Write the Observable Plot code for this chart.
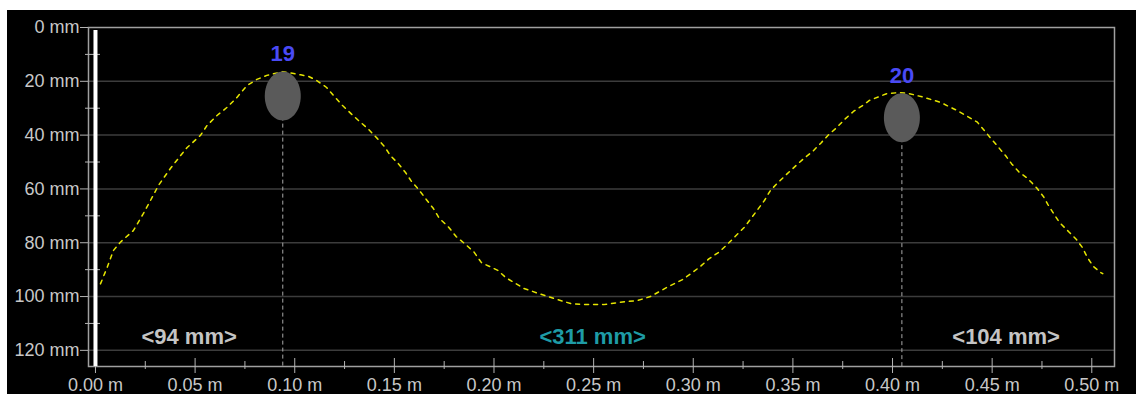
<!DOCTYPE html>
<html><head><meta charset="utf-8">
<script src="https://cdn.jsdelivr.net/npm/d3@7"></script>
<script src="https://cdn.jsdelivr.net/npm/@observablehq/plot@0.6"></script>
<style>
html,body{margin:0;padding:0;background:#fff;width:1136px;height:394px;overflow:hidden}
#chart{position:absolute;left:7px;top:10px;width:1129px;height:384px;background:#000}
#chart svg{display:block}
</style></head><body><div id="chart"></div>
<script>
// Surface profile (x in metres, depth in mm)
const profileX = [0.0025,0.0059,0.009,0.0125,0.019,0.024,0.0276,0.0316,0.0376,0.0427,0.046,0.0527,0.056,0.061,0.066,0.071,0.076,0.081,0.086,0.094,0.103,0.107,0.111,0.116,0.1195,0.124,0.1285,0.1325,0.137,0.1415,0.145,0.148,0.152,0.1556,0.1586,0.1626,0.166,0.1696,0.1726,0.177,0.181,0.1857,0.19,0.1937,0.202,0.206,0.211,0.215,0.223,0.23,0.2385,0.245,0.255,0.2635,0.272,0.2785,0.287,0.2946,0.299,0.3036,0.308,0.3127,0.317,0.321,0.3257,0.329,0.332,0.3357,0.3387,0.342,0.3468,0.351,0.355,0.36,0.364,0.368,0.372,0.3759,0.3804,0.385,0.3884,0.397,0.403,0.4075,0.4155,0.424,0.4325,0.4426,0.449,0.4567,0.4597,0.4637,0.4677,0.4722,0.4757,0.478,0.4808,0.4838,0.4883,0.4923,0.4953,0.4978,0.5008,0.5043,0.5055];
const profileY = [95.3,89.1,82.9,79.8,75.5,69.2,64.3,58.7,52.4,47.6,44.6,40.1,36.4,32.7,29.7,26.0,21.6,19.3,17.8,16.4,17.6,18.2,19.7,22.3,25.3,29.0,32.2,34.9,37.8,41.3,44.2,47.6,50.6,53.9,57.2,60.6,63.9,67.3,71.0,74.0,77.7,80.6,83.5,87.4,90.3,93.0,95.2,97.0,99.0,100.7,102.6,103.0,103.0,102.1,101.5,100.0,96.5,93.7,91.4,88.8,85.9,83.6,80.7,77.7,74.2,71.0,68.0,64.3,60.6,58.0,54.6,51.7,49.0,46.0,43.0,39.8,37.2,34.2,31.2,29.0,27.1,24.6,24.2,24.4,25.9,27.8,30.9,35.2,40.9,47.6,50.6,53.9,56.0,59.5,62.8,65.8,69.1,72.5,75.8,78.8,81.8,85.5,88.8,91.0,91.5];

// Peaks
const peakIds = ["19", "20"];
const peakX = [0.094, 0.4047];
const peakY = [25.5, 33.5];

// Span annotations
const spanEdges = [0, 0.094, 0.405, 0.509];
const spanLabels = ["<94 mm>", "<311 mm>", "<104 mm>"];
const spanColors = ["#c4c4c4", "#1e9ba6", "#c4c4c4"];

// Ticks
const yTicks = [0, 20, 40, 60, 80, 100, 120];
const yMinor = [10, 30, 50, 70, 90, 110];
const xTicks = [0, 0.05, 0.10, 0.15, 0.20, 0.25, 0.30, 0.35, 0.40, 0.45, 0.50];
const xMinor = [0.025, 0.075, 0.125, 0.175, 0.225, 0.275, 0.325, 0.375, 0.425, 0.475];
const startMark = [0];

const profile = profileX.map((x, i) => ({x, y: profileY[i]}));
const peaks = peakIds.map((id, i) => ({id, x: peakX[i], y: peakY[i]}));
const spans = spanLabels.map((label, i) => ({label, color: spanColors[i], mid: (spanEdges[i] + spanEdges[i + 1]) / 2}));

const ellipse = {
  draw(ctx) {
    const rx = 18, ry = 24.5, k = 0.5523;
    ctx.moveTo(rx, 0);
    ctx.bezierCurveTo(rx, ry * k, rx * k, ry, 0, ry);
    ctx.bezierCurveTo(-rx * k, ry, -rx, ry * k, -rx, 0);
    ctx.bezierCurveTo(-rx, -ry * k, -rx * k, -ry, 0, -ry);
    ctx.bezierCurveTo(rx * k, -ry, rx, -ry * k, rx, 0);
    ctx.closePath();
  }
};

const chart = Plot.plot({
  width: 1129, height: 384,
  marginLeft: 81, marginTop: 17, marginRight: 22, marginBottom: 28,
  style: {background: "#000", color: "#c8c8c8", fontFamily: "'Liberation Sans', Arial, sans-serif", fontSize: "18px"},
  x: {domain: [-0.0035, 0.5114]},
  y: {domain: [0, 126], reverse: true},
  color: {type: "identity"},
  marks: [
    Plot.ruleY(yTicks.slice(1), {stroke: "#3c3c3c", strokeWidth: 1.5}),
    Plot.frame({stroke: "#a0a0a0", strokeWidth: 1.5}),
    Plot.axisY(yTicks, {tickSize: 8, tickPadding: 1, tickFormat: d => `${d} mm`, stroke: "#b4b4b4", fill: "#c8c8c8", label: null}),
    Plot.axisY(yMinor, {tickSize: 15, dx: 12, text: null, stroke: "#b4b4b4", label: null}),
    Plot.axisX(xTicks, {tickSize: 15, dy: -8, text: null, stroke: "#b4b4b4", label: null}),
    Plot.axisX(xMinor, {tickSize: 8, dy: -5, text: null, stroke: "#b4b4b4", label: null}),
    Plot.axisX(xTicks, {tickSize: 0, tickPadding: 12, tickFormat: d => d.toFixed(2) + " m", fill: "#c8c8c8", label: null}),
    Plot.ruleX(startMark, {y1: 1.1, y2: 126, stroke: "#fff", strokeWidth: 4}),
    Plot.ruleX(peaks, {x: "x", y1: "y", y2: () => 126, stroke: "#a8a8a8", strokeDasharray: "4,3"}),
    Plot.line(profile, {x: "x", y: "y", stroke: "#e6e600", strokeWidth: 1.5, strokeDasharray: "4,5"}),
    Plot.dot(peaks, {x: "x", y: "y", symbol: ellipse, fill: "#5a5a5a", stroke: null}),
    Plot.text(peaks, {x: "x", y: "y", text: "id", dy: -42, fill: "#4a4af5", fontSize: 22, fontWeight: "bold"}),
    Plot.text(spans, {x: "mid", y: () => 115, text: "label", fill: "color", fontSize: 22, fontWeight: "bold"})
  ]
});
document.getElementById("chart").appendChild(chart);
</script></body></html>
